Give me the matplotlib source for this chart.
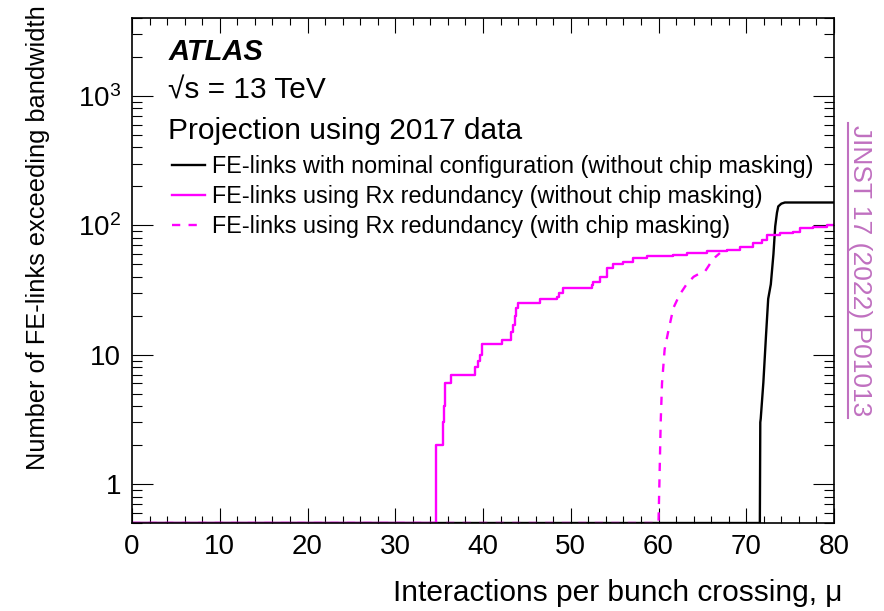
import numpy as np
import matplotlib
matplotlib.use('Agg')
import matplotlib.pyplot as plt
from matplotlib.ticker import LogLocator, FixedLocator, FixedFormatter, MultipleLocator
from matplotlib.lines import Line2D

plt.rcParams['font.family'] = ['Liberation Sans', 'DejaVu Sans']
plt.rcParams['mathtext.fontset'] = 'custom'
plt.rcParams['mathtext.rm'] = 'Liberation Sans'

# nominal configuration, no masking (black)
mu_nom = [0, 71.55, 71.6, 71.65, 71.95, 72.25, 72.5, 72.8, 73.1, 73.3, 73.5,
          73.65, 74.0, 74.4, 80]
n_nom = [0, 0, 3, 3.2, 6.1, 14, 27, 35, 60, 98, 125, 140, 147, 150, 150]

# Rx redundancy, no masking (magenta solid, step-like)
mu_rx = [0, 34.6, 34.7, 35.4, 35.55, 35.67, 36.35, 39.1, 39.4, 39.7, 39.85,
         42.2, 43.2, 43.4, 43.6, 43.8, 44.0, 46.5, 48.4, 48.7, 49.15, 52.4,
         52.57, 53.33, 54.1, 54.85, 55.99, 57.13, 58.65, 61.69, 63.2, 65.5,
         67.77, 69.29, 70.8, 71.76, 72.33, 73.85, 75.37, 76.13, 77.64, 79.16, 80]
n_rx = [0, 1, 2, 3, 4, 6, 7, 8, 9, 10, 12,
        13, 15, 17, 20, 23, 25, 27, 28, 30, 32.5, 34.5,
        36.6, 40, 46.4, 50, 52, 55.5, 58, 59, 60.7, 63.6,
        64.4, 68.4, 72.5, 77, 84, 86.7, 89, 95, 97.7, 100, 100]

# Rx redundancy, with chip masking (magenta dashed)
mu_mask = [0, 60.0, 60.1, 60.25, 60.4, 60.7, 61.1, 61.7, 62.4, 63.2, 64.0,
           64.7, 65.3, 66.0, 66.5, 67.0]
n_mask = [0, 0, 1, 3, 6, 11, 15, 23, 29, 35, 40, 42.5, 44, 52, 57, 61]

ylo, yhi = 0.5, 4000

fig = plt.figure(figsize=(8.84, 6.11), dpi=100)
ax = fig.add_axes([132/884, 88/611, 702/884, 505/611])

def floor(v):
    return np.clip(np.array(v, dtype=float), ylo, None)

ax.plot(mu_nom, floor(n_nom), color='black', lw=1.7,
        label='FE-links with nominal configuration (without chip masking)')
ax.plot(mu_rx, floor(n_rx), color='#ff00ff', lw=1.7, drawstyle='steps-post',
        label='FE-links using Rx redundancy (without chip masking)')
ax.plot(mu_mask, floor(n_mask), color='#ff00ff', lw=1.7, ls=(0, (3.5, 3.5)),
        label='FE-links using Rx redundancy (with chip masking)')

ax.set_xlim(0, 80)
ax.set_yscale('log')
ax.set_ylim(ylo, yhi)

ax.xaxis.set_major_locator(MultipleLocator(10))
ax.xaxis.set_minor_locator(MultipleLocator(2))
ax.yaxis.set_major_locator(FixedLocator([1, 10, 100, 1000]))
ax.yaxis.set_major_formatter(FixedFormatter(['1', '10', r'$\mathregular{10^{2}}$',
                                             r'$\mathregular{10^{3}}$']))
ax.yaxis.set_minor_locator(LogLocator(base=10, subs=np.arange(2, 10)))
ax.yaxis.set_minor_formatter(plt.NullFormatter())

ax.tick_params(which='both', direction='in', top=True, right=True, width=0.8,
               labelsize=20)
ax.tick_params(axis='x', which='major', length=11, pad=8)
ax.tick_params(axis='x', which='minor', length=5)
ax.tick_params(axis='y', which='major', length=15, pad=8)
ax.tick_params(axis='y', which='minor', length=7)
for s in ax.spines.values():
    s.set_linewidth(1.2)

fig.text(842/884, 1 - 593/611, 'Interactions per bunch crossing, μ',
         ha='right', va='center', fontsize=21.5)
fig.text(38/884, 1 - 5/611, 'Number of FE-links exceeding bandwidth',
         ha='center', va='top', rotation=90, fontsize=18.3)

fig.text(169/884, 1 - 52/611, 'ATLAS', fontsize=21, fontweight='bold',
         fontstyle='italic', va='center')
fig.text(168/884, 1 - 91/611, '√s = 13 TeV', fontsize=21.5, va='center')
fig.text(168/884, 1 - 131/611, 'Projection using 2017 data', fontsize=21.5,
         va='center')

ax.legend(loc='upper left', bbox_to_anchor=(172/884, 1 - 155/611),
          bbox_transform=fig.transFigure, frameon=False, fontsize=16.8,
          handlelength=1.4, handletextpad=0.33, labelspacing=0.3,
          borderpad=0, borderaxespad=0)

jc = '#c070c0'
fig.text(860/884, 1 - 271/611, 'JINST 17 (2022) P01013', rotation=-90,
         ha='center', va='center', fontsize=19, color=jc)
fig.add_artist(Line2D([848/884, 848/884], [1 - 123/611, 1 - 418/611],
                      transform=fig.transFigure, color=jc, lw=1.5))

fig.savefig('out.png', dpi=100)
